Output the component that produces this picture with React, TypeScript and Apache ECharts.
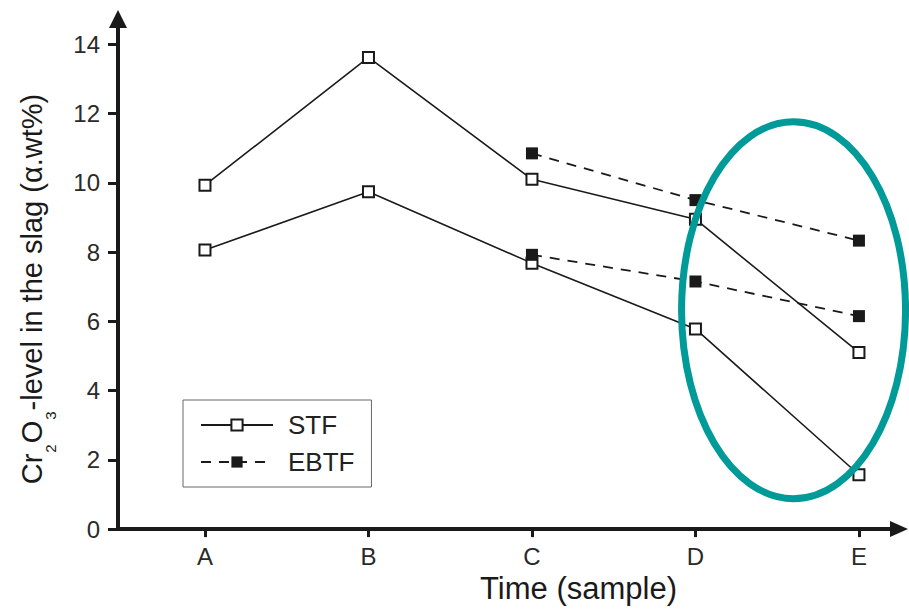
import React, { useEffect, useRef } from 'react';
import * as echarts from 'echarts';

const categories = ['A', 'B', 'C', 'D', 'E'];
const yTicks = [0, 2, 4, 6, 8, 10, 12, 14];
const stfUpper: (number | null)[] = [9.93, 13.62, 10.1, 8.95, 5.1];
const stfLower: (number | null)[] = [8.06, 9.74, 7.68, 5.78, 1.57];
const ebtfUpper: (number | null)[] = [null, null, 10.85, 9.5, 8.33];
const ebtfLower: (number | null)[] = [null, null, 7.92, 7.15, 6.15];
// highlight ellipse, in (category index, value) units
const ellipseCenter = [3.6, 6.32];
const ellipseHalfSpan = [0.685, 5.44];

const FONT = '"Liberation Sans", Arial, sans-serif';
const INK = '#1a1a1a';

const toPoints = (vals: (number | null)[]) =>
  vals.map((v, i) => (v == null ? null : [i, v])).filter((p) => p !== null);

export default function App() {
  const ref = useRef<HTMLDivElement>(null);

  useEffect(() => {
    if (!ref.current) return;
    const chart = echarts.init(ref.current, null, { renderer: 'svg' });

    const openSeries = (data: any) => ({
      name: 'STF',
      type: 'line',
      data,
      symbol: 'rect',
      symbolSize: 11,
      showSymbol: true,
      lineStyle: { color: INK, width: 1.6, type: 'solid' },
      itemStyle: { color: '#ffffff', borderColor: INK, borderWidth: 2 },
      z: 3,
    });
    const filledSeries = (data: any) => ({
      name: 'EBTF',
      type: 'line',
      data,
      symbol: 'rect',
      symbolSize: 12,
      showSymbol: true,
      lineStyle: { color: INK, width: 1.8, type: [10, 8] },
      itemStyle: { color: INK, borderColor: INK, borderWidth: 0 },
      z: 3,
    });

    chart.setOption({
      animation: false,
      backgroundColor: '#ffffff',
      textStyle: { fontFamily: FONT },
      grid: { left: 118, right: 10, top: 19, bottom: 75, containLabel: false },
      legend: {
        data: ['STF', 'EBTF'],
        orient: 'vertical',
        left: 183,
        top: 400,
        padding: [12, 17, 12, 17],
        itemGap: 11,
        itemWidth: 72,
        itemHeight: 14,
        borderColor: '#666666',
        borderWidth: 1,
        backgroundColor: '#ffffff',
        textStyle: { fontSize: 26, color: '#222222', fontFamily: FONT, padding: [0, 0, 0, 10] },
      },
      xAxis: {
        type: 'value',
        min: -0.532,
        max: 4.245,
        splitLine: { show: false },
        axisLine: {
          show: true,
          onZero: false,
          lineStyle: { color: INK, width: 4 },
          symbol: ['none', 'triangle'],
          symbolSize: [16, 18],
        },
        axisTick: {
          show: true,
          customValues: categories.map((_, i) => i),
          length: 8,
          lineStyle: { color: INK, width: 3 },
        },
        axisLabel: {
          customValues: categories.map((_, i) => i),
          formatter: (v: number) => categories[Math.round(v)] ?? '',
          fontSize: 24,
          color: '#2a2a2a',
          margin: 15,
          fontFamily: FONT,
        },
        name: 'Time (sample)',
        nameLocation: 'middle',
        nameGap: 33,
        nameTextStyle: { fontSize: 31, color: INK, fontFamily: FONT, padding: [0, 0, 0, 140] },
      },
      yAxis: {
        type: 'value',
        min: 0,
        max: 14.73,
        splitLine: { show: false },
        axisLine: {
          show: true,
          onZero: false,
          lineStyle: { color: INK, width: 4 },
          symbol: ['none', 'triangle'],
          symbolSize: [18, 18],
        },
        axisTick: {
          show: true,
          customValues: yTicks,
          length: 10,
          lineStyle: { color: INK, width: 3 },
        },
        axisLabel: {
          customValues: yTicks,
          fontSize: 24,
          color: '#2a2a2a',
          margin: 18,
          fontFamily: FONT,
        },
        name: '{a|Cr}{s|2}{a|O}{s|3}{a|-level in the slag (α.wt%)}',
        nameLocation: 'middle',
        nameRotate: 90,
        nameGap: 72,
        nameTextStyle: {
          color: INK,
          fontFamily: FONT,
          padding: [0, 30, 0, 0],
          rich: {
            a: { fontSize: 29, lineHeight: 29, color: INK, fontFamily: FONT, verticalAlign: 'top' },
            s: { fontSize: 15, lineHeight: 15, color: INK, fontFamily: FONT, verticalAlign: 'top', padding: [26, 1, 0, 1] },
          },
        },
      },
      series: [
        openSeries(toPoints(stfUpper)),
        openSeries(toPoints(stfLower)),
        filledSeries(toPoints(ebtfUpper)),
        filledSeries(toPoints(ebtfLower)),
      ],
    });

    const c = chart.convertToPixel({ gridIndex: 0 }, ellipseCenter) as number[];
    const e = chart.convertToPixel({ gridIndex: 0 }, [
      ellipseCenter[0] + ellipseHalfSpan[0],
      ellipseCenter[1] + ellipseHalfSpan[1],
    ]) as number[];
    chart.setOption({
      graphic: [
        {
          type: 'ellipse',
          z: 100,
          shape: { cx: c[0], cy: c[1], rx: Math.abs(e[0] - c[0]), ry: Math.abs(c[1] - e[1]) },
          style: { fill: 'none', stroke: '#009a99', lineWidth: 7 },
        },
      ],
    });

    return () => chart.dispose();
  }, []);

  return (
    <div
      ref={ref}
      style={{ position: 'fixed', left: 0, top: 0, width: 909, height: 609, background: '#ffffff' }}
    />
  );
}
